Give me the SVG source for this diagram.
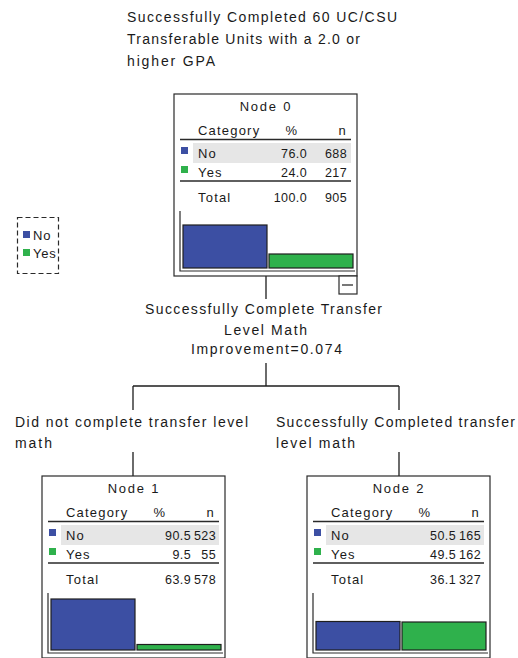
<svg xmlns="http://www.w3.org/2000/svg" width="518" height="658" viewBox="0 0 518 658">
<defs>
<style>
text{font-family:"Liberation Sans",Arial,sans-serif;fill:#1a1a1a}
.lbl{font-size:14px}
.t{font-size:13px;letter-spacing:1.2px}
.num{font-size:12.5px;letter-spacing:0.4px;text-anchor:end}
.box{fill:#fff;stroke:#2a2a2a;stroke-width:1.2}
.rule{stroke:#2a2a2a;stroke-width:1.3;fill:none}
.band{fill:#e6e6e6}
.no{fill:#3c4fa3}
.yes{fill:#2fb14c}
.bar{stroke:#1e1e1e;stroke-width:1.2}
.axis{stroke:#2a2a2a;stroke-width:1.2;fill:none}
.conn{stroke:#1e1e1e;stroke-width:1.3;fill:none}
</style>
</defs>
<rect width="518" height="658" fill="#fff"/>

<g id="root-label">
<text class="lbl" x="127" y="21.5" textLength="270" lengthAdjust="spacing">Successfully Completed 60 UC/CSU</text>
<text class="lbl" x="127" y="43.5" textLength="233" lengthAdjust="spacing">Transferable Units with a 2.0 or</text>
<text class="lbl" x="127" y="65.5" textLength="88" lengthAdjust="spacing">higher GPA</text>
</g>

<g id="legend">
<rect x="17.5" y="217.5" width="41" height="56" fill="none" stroke="#2a2a2a" stroke-width="1.2" stroke-dasharray="5,3"/>
<rect class="no" x="23" y="231" width="7" height="7"/>
<text class="t" x="33" y="240" style="letter-spacing:0.8px">No</text>
<rect class="yes" x="23" y="249" width="7" height="7"/>
<text class="t" x="33" y="258" style="letter-spacing:0.8px">Yes</text>
</g>

<g id="connectors">
<path class="conn" d="M266 276V299M266 363V386M133 386H399M133 386V410M399 386V410M133 452V476M399 452V476"/>
<text class="lbl" x="145" y="314" textLength="237" lengthAdjust="spacing">Successfully Complete Transfer</text>
<text class="lbl" x="224" y="335" textLength="83" lengthAdjust="spacing">Level Math</text>
<text class="lbl" x="191" y="354" textLength="151" lengthAdjust="spacing">Improvement=0.074</text>
<text class="lbl" x="15" y="427" textLength="233" lengthAdjust="spacing">Did not complete transfer level</text>
<text class="lbl" x="15" y="448" textLength="37" lengthAdjust="spacing">math</text>
<text class="lbl" x="276" y="427" textLength="239" lengthAdjust="spacing">Successfully Completed transfer</text>
<text class="lbl" x="276" y="448" textLength="79" lengthAdjust="spacing">level math</text>
</g>

<g id="node0" transform="translate(174,94)">
<rect class="box" x="0" y="0" width="183" height="182"/>
<text class="t" x="92" y="17" text-anchor="middle" style="letter-spacing:1.8px">Node 0</text>
<text class="t" x="24" y="41">Category</text>
<text class="t" x="118" y="41" text-anchor="middle">%</text>
<text class="t" x="173" y="41" text-anchor="end">n</text>
<line class="rule" x1="6" y1="45.5" x2="177" y2="45.5"/>
<rect class="band" x="19" y="49" width="158" height="20"/>
<rect class="no" x="7" y="53" width="7" height="7"/>
<text class="t" x="24" y="64">No</text>
<text class="num" x="133" y="64">76.0</text>
<text class="num" x="173" y="64">688</text>
<rect class="yes" x="7" y="72" width="7" height="7"/>
<text class="t" x="24" y="83">Yes</text>
<text class="num" x="133" y="83">24.0</text>
<text class="num" x="173" y="83">217</text>
<line class="rule" x1="6" y1="87" x2="177" y2="87"/>
<text class="t" x="24" y="108">Total</text>
<text class="num" x="133" y="108">100.0</text>
<text class="num" x="173" y="108">905</text>
<path class="axis" d="M6 117V177H181"/>
<rect class="bar no" x="9" y="131" width="84" height="43"/>
<rect class="bar yes" x="95" y="160" width="84" height="14"/>
<g id="toggle0">
<rect x="165" y="182" width="18" height="18" fill="#fff" stroke="#2a2a2a" stroke-width="1.2"/>
<line x1="168" y1="191" x2="179" y2="191" stroke="#1e1e1e" stroke-width="1.2"/>
</g>
</g>

<g id="node1" transform="translate(42,476)">
<rect class="box" x="0" y="0" width="183" height="182"/>
<text class="t" x="92" y="17" text-anchor="middle" style="letter-spacing:1.8px">Node 1</text>
<text class="t" x="24" y="41">Category</text>
<text class="t" x="118" y="41" text-anchor="middle">%</text>
<text class="t" x="173" y="41" text-anchor="end">n</text>
<line class="rule" x1="6" y1="45.5" x2="177" y2="45.5"/>
<rect class="band" x="19" y="49" width="158" height="20"/>
<rect class="no" x="7" y="53" width="7" height="7"/>
<text class="t" x="24" y="64">No</text>
<text class="num" x="149" y="64">90.5</text>
<text class="num" x="174" y="64">523</text>
<rect class="yes" x="7" y="72" width="7" height="7"/>
<text class="t" x="24" y="83">Yes</text>
<text class="num" x="149" y="83">9.5</text>
<text class="num" x="174" y="83">55</text>
<line class="rule" x1="6" y1="87" x2="177" y2="87"/>
<text class="t" x="24" y="108">Total</text>
<text class="num" x="149" y="108">63.9</text>
<text class="num" x="174" y="108">578</text>
<path class="axis" d="M6 117V177H181"/>
<rect class="bar no" x="9" y="123" width="84" height="51"/>
<rect class="bar yes" x="95" y="168.5" width="84" height="5.5"/>
</g>

<g id="node2" transform="translate(307,476)">
<rect class="box" x="0" y="0" width="183" height="182"/>
<text class="t" x="92" y="17" text-anchor="middle" style="letter-spacing:1.8px">Node 2</text>
<text class="t" x="24" y="41">Category</text>
<text class="t" x="118" y="41" text-anchor="middle">%</text>
<text class="t" x="173" y="41" text-anchor="end">n</text>
<line class="rule" x1="6" y1="45.5" x2="177" y2="45.5"/>
<rect class="band" x="19" y="49" width="158" height="20"/>
<rect class="no" x="7" y="53" width="7" height="7"/>
<text class="t" x="24" y="64">No</text>
<text class="num" x="149" y="64">50.5</text>
<text class="num" x="174" y="64">165</text>
<rect class="yes" x="7" y="72" width="7" height="7"/>
<text class="t" x="24" y="83">Yes</text>
<text class="num" x="149" y="83">49.5</text>
<text class="num" x="174" y="83">162</text>
<line class="rule" x1="6" y1="87" x2="177" y2="87"/>
<text class="t" x="24" y="108">Total</text>
<text class="num" x="149" y="108">36.1</text>
<text class="num" x="174" y="108">327</text>
<path class="axis" d="M6 117V177H181"/>
<rect class="bar no" x="9" y="145.5" width="84" height="28.5"/>
<rect class="bar yes" x="95" y="146" width="84" height="28"/>
</g>
</svg>
